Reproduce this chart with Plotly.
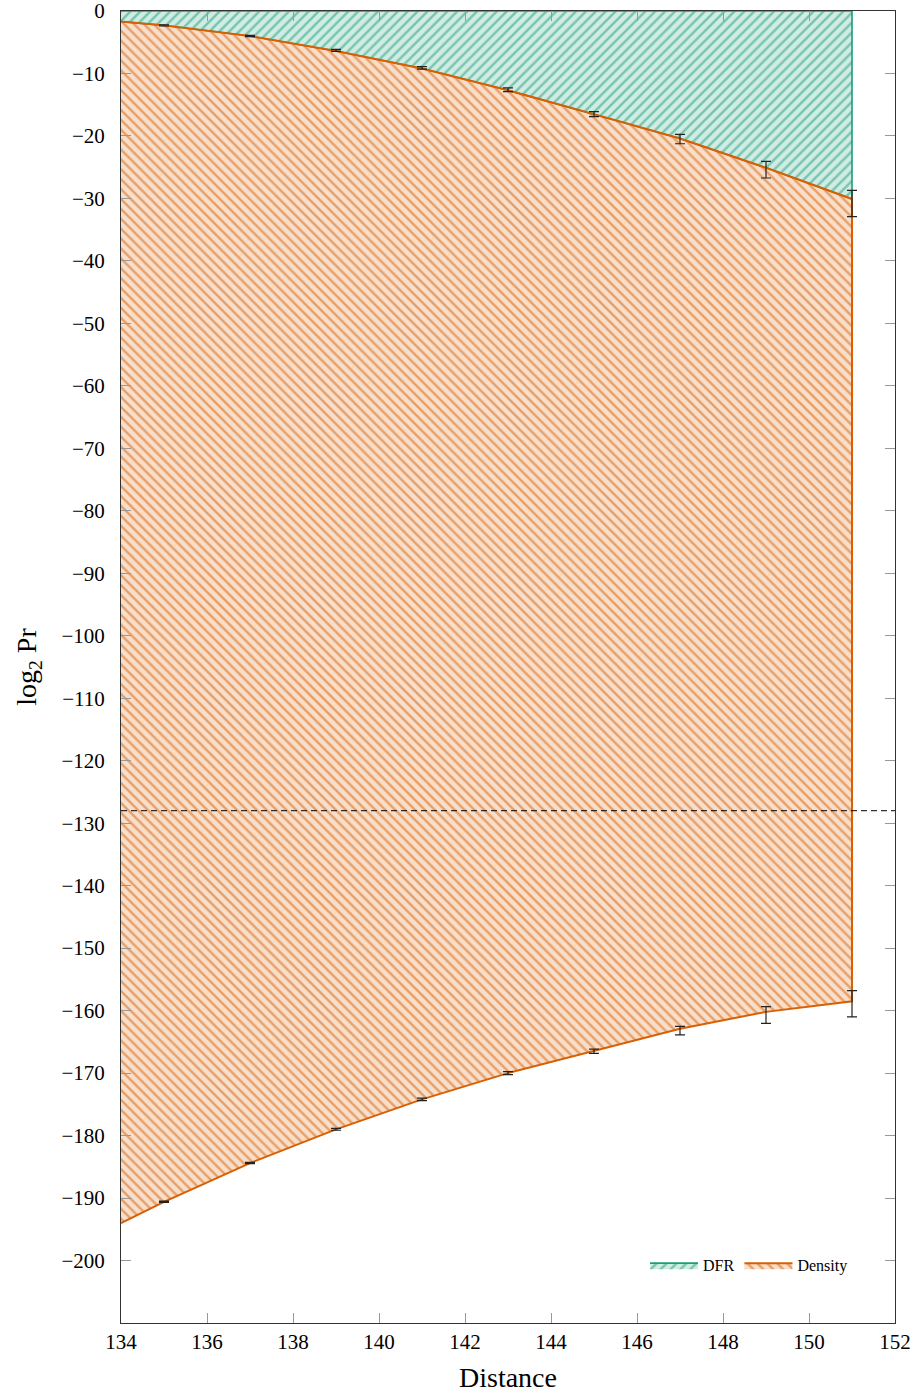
import plotly.graph_objects as go

# ------------------------------------------------------------------ #
# Design tokens
# ------------------------------------------------------------------ #
GREEN = "#1b9e77"
GREEN_BG = "rgba(27,158,119,0.20)"
ORANGE = "#d95f02"
ORANGE_BG = "rgba(217,95,2,0.20)"
FONT = "Liberation Serif, DejaVu Serif, serif"

# ------------------------------------------------------------------ #
# Data
# ------------------------------------------------------------------ #
distance = [134, 135, 137, 139, 141, 143, 145, 147, 149, 151]
dfr_bound = [-1.7, -2.3, -4.0, -6.4, -9.2, -12.7, -16.5, -20.4, -25.1, -30.1]
density_bound = [-194.0, -190.6, -184.4, -179.0, -174.2, -170.0, -166.4, -162.9, -160.2, -158.5]
top_level = [0, 0, 0, 0, 0, 0, 0, 0, 0, 0]

sample_distance = [135, 137, 139, 141, 143, 145, 147, 149, 151]
upper_mean = [-2.3, -4.0, -6.3, -9.1, -12.6, -16.5, -20.5, -25.4, -30.8]
upper_err = [0.1, 0.1, 0.15, 0.2, 0.3, 0.4, 0.75, 1.33, 2.1]
lower_mean = [-190.6, -184.4, -179.0, -174.2, -170.0, -166.5, -163.2, -160.7, -158.9]
lower_err = [0.1, 0.1, 0.15, 0.2, 0.25, 0.35, 0.67, 1.33, 2.1]

threshold = -128
x_ticks = [134, 136, 138, 140, 142, 144, 146, 148, 150, 152]
y_ticks = [0, -10, -20, -30, -40, -50, -60, -70, -80, -90, -100, -110, -120, -130,
           -140, -150, -160, -170, -180, -190, -200]

fig = go.Figure()

# DFR region: between 0 and the upper bound
fig.add_trace(go.Scatter(
    x=distance + distance[::-1], y=top_level + dfr_bound[::-1],
    fill="toself", mode="lines", name="DFR",
    line=dict(color=GREEN, width=1.6),
    fillcolor=GREEN_BG,
    fillpattern=dict(shape="/", fgcolor=GREEN, bgcolor=GREEN_BG, size=7, solidity=0.35),
    hoverinfo="skip",
))

# Density region: between the upper and lower bounds
fig.add_trace(go.Scatter(
    x=distance + distance[::-1], y=dfr_bound + density_bound[::-1],
    fill="toself", mode="lines", name="Density",
    line=dict(color=ORANGE, width=2),
    fillcolor=ORANGE_BG,
    fillpattern=dict(shape="\\", fgcolor=ORANGE, bgcolor=ORANGE_BG, size=7, solidity=0.35),
    hoverinfo="skip",
))

err_kw = dict(type="data", visible=True, color="#222222", thickness=1.2, width=5)
fig.add_trace(go.Scatter(
    x=sample_distance, y=upper_mean, mode="markers", marker=dict(size=1, opacity=0),
    error_y=dict(array=upper_err, **err_kw), showlegend=False, hoverinfo="skip",
))
fig.add_trace(go.Scatter(
    x=sample_distance, y=lower_mean, mode="markers", marker=dict(size=1, opacity=0),
    error_y=dict(array=lower_err, **err_kw), showlegend=False, hoverinfo="skip",
))

fig.add_hline(y=threshold, line=dict(color="black", width=1, dash="6px,4px"))

axis_kw = dict(
    showgrid=False, zeroline=False, showline=True, linecolor="#333333", linewidth=1,
    mirror="ticks", ticks="inside", ticklen=10, tickcolor="#999999", tickwidth=1,
    tickfont=dict(family=FONT, size=21, color="black"), automargin=False,
    ticklabeloverflow="allow",
)
fig.update_layout(
    width=920, height=1399,
    margin=dict(l=121, r=25, t=11, b=76),
    paper_bgcolor="white", plot_bgcolor="white",
    font=dict(family=FONT, color="black"),
    showlegend=True,
    legend=dict(
        orientation="h", x=0.677, y=0.044, xanchor="left", yanchor="middle",
        font=dict(family=FONT, size=16), bgcolor="rgba(0,0,0,0)", itemwidth=48,
    ),
    xaxis=dict(range=[134, 152], tickvals=x_ticks,
               title=dict(text="Distance", font=dict(family=FONT, size=28), standoff=14),
               **axis_kw),
    yaxis=dict(range=[-210, 0], tickvals=y_ticks, ticklabelstandoff=11,
               title=dict(text="log<sub>2</sub> Pr", font=dict(family=FONT, size=28), standoff=16),
               **axis_kw),
)

fig.write_html("out.html", config={"displayModeBar": False},
               post_script="document.body.style.margin='0';")
